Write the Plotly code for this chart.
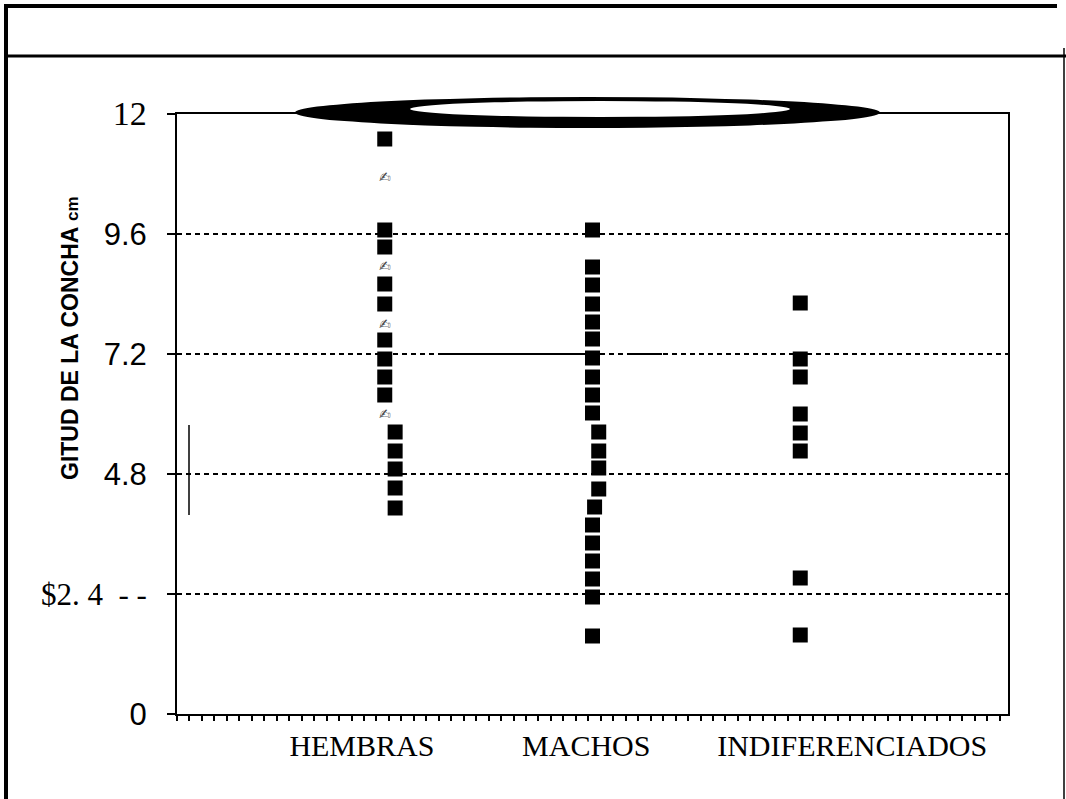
import plotly.graph_objects as go

# longitud de la concha (cm)
hembras = [11.5, 9.68, 9.34, 8.6, 8.2, 7.48, 7.1, 6.74, 6.38, 5.64, 5.26, 4.9, 4.52, 4.12]
hembras_off = [0, 0, 0, 0, 0, 0, 0, 0, 0, 0.05, 0.05, 0.05, 0.05, 0.05]
hembras_marcas = [10.72, 8.94, 7.78, 5.98]

machos = [9.68, 8.94, 8.58, 8.2, 7.84, 7.5, 7.12, 6.74, 6.38, 6.02, 5.64, 5.26,
          4.92, 4.5, 4.14, 3.78, 3.42, 3.06, 2.7, 2.34, 1.56]
machos_off = [0, 0, 0, 0, 0, 0, 0, 0, 0, 0, 0.03, 0.03, 0.03, 0.03, 0.01, 0, 0, 0, 0, 0, 0]

indif = [8.22, 7.1, 6.74, 6.0, 5.62, 5.26, 2.72, 1.58]

categorias = ['HEMBRAS', 'MACHOS', 'INDIFERENCIADOS']
cat_pos = [0.89, 1.97, 3.25]

y_ticks = [0, 2.4, 4.8, 7.2, 9.6, 12]
SANS = "Liberation Sans, Arial"
SERIF = "Liberation Serif, Times New Roman"
y_ticktext = [
    '<span style="font-family:%s">0</span>' % SANS,
    '<span style="font-family:%s">$2. 4  - -</span>' % SERIF,
    '<span style="font-family:%s">4.8</span>' % SANS,
    '<span style="font-family:%s">7.2</span>' % SANS,
    '<span style="font-family:%s">9.6</span>' % SANS,
    '<span style="font-family:%s;font-size:34px">12</span>' % SERIF,
]

marker = dict(symbol='square', size=15, color='black')

fig = go.Figure()
fig.add_trace(go.Scatter(x=[1 + o for o in hembras_off], y=hembras, mode='markers',
                         marker=marker, showlegend=False))
fig.add_trace(go.Scatter(x=[1] * len(hembras_marcas), y=hembras_marcas, mode='text',
                         text=['✍'] * len(hembras_marcas),
                         textfont=dict(family='DejaVu Sans', size=14, color='#444'),
                         showlegend=False))
fig.add_trace(go.Scatter(x=[2 + o for o in machos_off], y=machos, mode='markers',
                         marker=marker, showlegend=False))
fig.add_trace(go.Scatter(x=[3] * len(indif), y=indif, mode='markers',
                         marker=marker, showlegend=False))


# helpers: pixel -> paper coords (plot area is 177..1008 x 114..714)
def px(x):
    return (x - 177) / 831


def py(y):
    return (714 - y) / 600


shapes = [
    # marco exterior
    dict(type='line', xref='paper', yref='paper', x0=px(6), x1=px(6), y0=py(4), y1=py(805),
         line=dict(color='black', width=4)),
    dict(type='line', xref='paper', yref='paper', x0=px(4), x1=px(1057), y0=py(6), y1=py(6),
         line=dict(color='black', width=4)),
    dict(type='line', xref='paper', yref='paper', x0=px(4), x1=px(1066), y0=py(56), y1=py(56),
         line=dict(color='black', width=3)),
    dict(type='line', xref='paper', yref='paper', x0=px(1064), x1=px(1064), y0=py(48), y1=py(805),
         line=dict(color='black', width=1.5)),
    # mancha del escaneo
    dict(type='circle', xref='paper', yref='paper', x0=px(295), x1=px(880), y0=py(128), y1=py(97),
         fillcolor='black', line=dict(width=0), layer='above'),
    dict(type='circle', xref='paper', yref='paper', x0=px(410), x1=px(790), y0=py(117), y1=py(101),
         fillcolor='white', line=dict(width=0), layer='above'),
    # trazos sueltos
    dict(type='line', xref='paper', yref='y', x0=px(439), x1=px(583), y0=7.2, y1=7.2,
         line=dict(color='black', width=2)),
    dict(type='line', xref='paper', yref='y', x0=px(627), x1=px(662), y0=7.2, y1=7.2,
         line=dict(color='black', width=2)),
    dict(type='line', xref='paper', yref='paper', x0=px(189), x1=px(189), y0=py(425), y1=py(515),
         line=dict(color='black', width=1.5)),
]

annotations = [
    dict(text='GITUD DE LA CONCHA <span style="font-size:17px">cm</span>', textangle=-90,
         xref='paper', yref='paper', x=px(70), y=py(338), xanchor='center', yanchor='middle',
         showarrow=False,
         font=dict(family=SANS, size=23, color='black', weight='bold'))
]

fig.update_layout(
    width=1066, height=799,
    margin=dict(l=177, r=58, t=114, b=85),
    paper_bgcolor='white', plot_bgcolor='white',
    shapes=shapes, annotations=annotations,
    xaxis=dict(
        range=[0, 4], showgrid=False, zeroline=False,
        showline=True, linecolor='black', linewidth=2, mirror=True,
        tickmode='array', tickvals=cat_pos, ticktext=categorias, ticks='',
        tickfont=dict(family=SERIF, size=30, color='black'),
        ticklabelstandoff=4,
        minor=dict(ticks='outside', tick0=0, dtick=0.06, ticklen=5, tickcolor='black', tickwidth=1.5),
    ),
    yaxis=dict(
        range=[0, 12], zeroline=False,
        showline=True, linecolor='black', linewidth=2, mirror=True,
        tickmode='array', tickvals=y_ticks, ticktext=y_ticktext,
        ticks='outside', ticklen=8, tickcolor='black', tickwidth=1.5,
        ticklabelstandoff=14,
        tickfont=dict(size=31, color='black'),
        showgrid=True, gridcolor='black', gridwidth=2, griddash='5px,4px',
    ),
)

# the page body has a default 8px margin; remove it so the figure sits at 0,0
fig.write_html("out.html", config={"displayModeBar": False},
               post_script="document.body.style.margin='0px';")
